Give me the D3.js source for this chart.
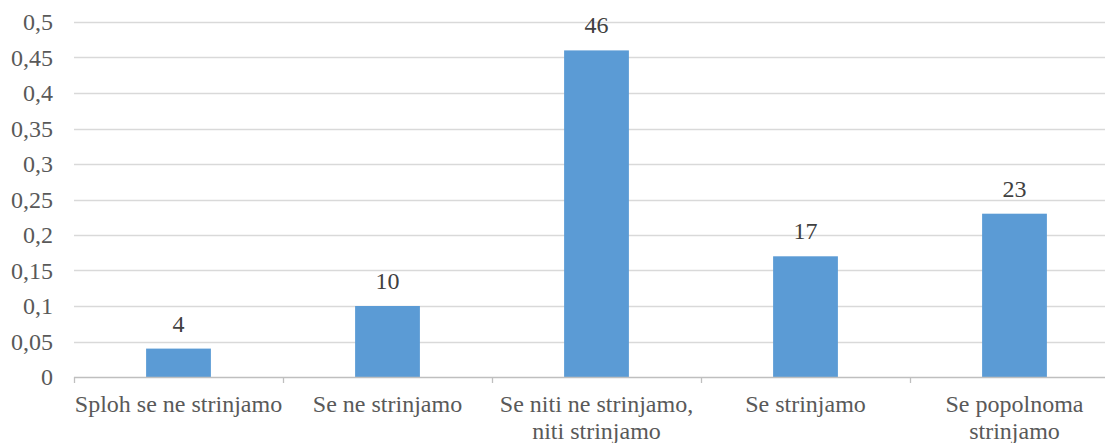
<!DOCTYPE html>
<html>
<head>
<meta charset="utf-8">
<script src="https://cdn.jsdelivr.net/npm/d3@7"></script>
</head>
<body style="margin:0">
<script>
// categories (line breaks as in the original chart)
var categories = ["Sploh se ne strinjamo", "Se ne strinjamo", "Se niti ne strinjamo,\nniti strinjamo", "Se strinjamo", "Se popolnoma\nstrinjamo"];
var shares = [0.04, 0.10, 0.46, 0.17, 0.23];
var labels = ["4", "10", "46", "17", "23"];
var yTicks = [0, 0.05, 0.1, 0.15, 0.2, 0.25, 0.3, 0.35, 0.4, 0.45, 0.5];

var W = 1105, H = 443;
var margin = { top: 22, right: -14, bottom: 66, left: 74 },
    width = W - margin.left - margin.right,
    height = H - margin.top - margin.bottom;

var svgRoot = d3.select("body").append("svg")
    .attr("width", W)
    .attr("height", H);

var svg = svgRoot.append("g")
    .attr("transform", "translate(" + margin.left + "," + margin.top + ")");

var x = d3.scaleBand()
    .domain(d3.range(categories.length))
    .range([0, width])
    .paddingInner(0.69)
    .paddingOuter(0.345);

var y = d3.scaleLinear()
    .domain([0, 0.5])
    .range([height, 0]);

// gridlines
svg.selectAll(".grid")
    .data(yTicks.slice(1))
    .enter().append("line")
    .attr("x1", 0)
    .attr("x2", width)
    .attr("y1", function (d) { return Math.round(y(d)) + 0.5; })
    .attr("y2", function (d) { return Math.round(y(d)) + 0.5; })
    .style("stroke", "#d9d9d9")
    .style("stroke-width", 1.3);

// y tick labels
svg.selectAll(".ylab")
    .data(yTicks)
    .enter().append("text")
    .attr("x", -21)
    .attr("y", function (d) { return y(d); })
    .attr("dy", "0.34em")
    .attr("text-anchor", "end")
    .attr("font-family", "Liberation Serif")
    .attr("font-size", 24)
    .attr("fill", "#595959")
    .text(function (d) { return String(+d.toFixed(2)).replace(".", ","); });

// bars
svg.selectAll(".bar")
    .data(shares)
    .enter().append("rect")
    .attr("x", function (d, i) { return x(i); })
    .attr("width", x.bandwidth())
    .attr("y", function (d) { return y(d); })
    .attr("height", function (d) { return height - y(d); })
    .style("fill", "#5b9bd5");

// data labels
svg.selectAll(".dlab")
    .data(shares)
    .enter().append("text")
    .attr("x", function (d, i) { return x(i) + x.bandwidth() / 2; })
    .attr("y", function (d) { return y(d) - 17; })
    .attr("text-anchor", "middle")
    .attr("font-family", "Liberation Serif")
    .attr("font-size", 24)
    .attr("fill", "#404040")
    .text(function (d, i) { return labels[i]; });

// x axis line and tick marks at category boundaries
var step = x.step();
svg.append("line")
    .attr("x1", 0).attr("x2", width)
    .attr("y1", height + 0.5).attr("y2", height + 0.5)
    .style("stroke", "#bfbfbf")
    .style("stroke-width", 1.3);

svg.selectAll(".xtick")
    .data(d3.range(categories.length + 1))
    .enter().append("line")
    .attr("x1", function (d) { return Math.round(d * step) + 0.5; })
    .attr("x2", function (d) { return Math.round(d * step) + 0.5; })
    .attr("y1", height)
    .attr("y2", height + 6)
    .style("stroke", "#bfbfbf")
    .style("stroke-width", 1.3);

// category labels
var cat = svg.selectAll(".xlab")
    .data(categories)
    .enter().append("text")
    .attr("text-anchor", "middle")
    .attr("font-family", "Liberation Serif")
    .attr("font-size", 24)
    .attr("fill", "#595959");

cat.selectAll("tspan")
    .data(function (d, i) { return d.split("\n").map(function (s) { return { s: s, i: i }; }); })
    .enter().append("tspan")
    .attr("x", function (d) { return x(d.i) + x.bandwidth() / 2; })
    .attr("y", function (d, j) { return height + 35 + j * 27; })
    .text(function (d) { return d.s; });
</script>
</body>
</html>
